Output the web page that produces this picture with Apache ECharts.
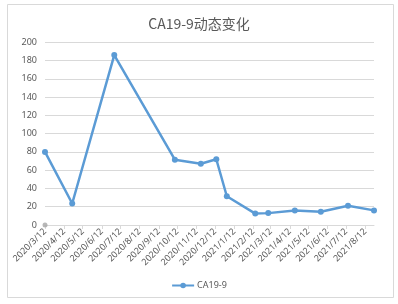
<!DOCTYPE html>
<html><head><meta charset="utf-8">
<script src="https://cdn.jsdelivr.net/npm/echarts@6/dist/echarts.min.js"></script>
<style>html,body{margin:0;padding:0;background:#fff}#c{width:398px;height:304px}</style>
</head><body><div id="c"></div>
<script>
const title = 'CA19-9动态变化';
const seriesName = 'CA19-9';
const tickLabels = ['2020/3/12','2020/4/12','2020/5/12','2020/6/12','2020/7/12','2020/8/12','2020/9/12','2020/10/12','2020/11/12','2020/12/12','2021/1/12','2021/2/12','2021/3/12','2021/4/12','2021/5/12','2021/6/12','2021/7/12','2021/8/12'];
const dates = ['2020/3/12','2020/4/25','2020/7/2','2020/10/8','2020/11/19','2020/12/14','2020/12/31','2021/2/15','2021/3/8','2021/4/20','2021/6/1','2021/7/15','2021/8/26'];
const values = [80, 23.5, 186, 71.5, 67, 72, 31.5, 12.5, 13, 16, 14.5, 21, 16];
const greyDates = ['2020/3/12'];
const greyValues = [0];

function day(s){const p=s.split('/').map(Number);return Date.UTC(p[0],p[1]-1,p[2])/86400000;}
const tickVals = tickLabels.map(day);
const labelMap = {}; tickLabels.forEach((t,i)=>{labelMap[tickVals[i]]=t;});

const chart = echarts.init(document.getElementById('c'), null, {renderer:'canvas'});
chart.setOption({
  animation:false,
  backgroundColor:'#fff',
  title:{text:title,left:'center',top:12,textStyle:{fontFamily:'Noto Sans CJK SC',fontSize:14,fontWeight:'normal',color:'#595959'}},
  graphic:[{type:'rect',shape:{x:7.5,y:4.5,width:386,height:293},style:{fill:'none',stroke:'#D9D9D9',lineWidth:1},silent:true}],
  grid:{left:45,right:24,top:42.3,bottom:79,containLabel:false},
  legend:{data:[seriesName],bottom:9,left:'center',itemWidth:22,itemHeight:7,itemGap:5,textStyle:{fontFamily:'Noto Sans',fontSize:9,color:'#595959',padding:[0,0,0,-2]}},
  xAxis:{type:'value',min:day(dates[0]),max:day(dates[dates.length-1]),
    axisLine:{show:true,lineStyle:{color:'#D9D9D9',width:1}},
    axisTick:{show:true,customValues:tickVals,length:4,lineStyle:{color:'#D9D9D9'}},
    axisLabel:{customValues:tickVals,rotate:45,margin:5,fontFamily:'Noto Sans',fontSize:9,color:'#595959',formatter:v=>labelMap[v]||''},
    splitLine:{show:false}},
  yAxis:{type:'value',min:0,max:200,interval:20,
    axisLine:{show:false},axisTick:{show:false},
    axisLabel:{fontFamily:'Noto Sans',fontSize:9,color:'#595959',margin:8},
    splitLine:{lineStyle:{color:'#D9D9D9',width:1}}},
  series:[
    {name:'grey',type:'scatter',data:greyDates.map((d,i)=>[day(d),greyValues[i]]),symbolSize:5,itemStyle:{color:'#A5A5A5'},z:1},
    {name:seriesName,type:'line',data:dates.map((d,i)=>[day(d),values[i]]),symbol:'circle',symbolSize:6,
     lineStyle:{color:'#5B9BD5',width:2.5},itemStyle:{color:'#5B9BD5'},z:3}
  ]
});
</script></body></html>
